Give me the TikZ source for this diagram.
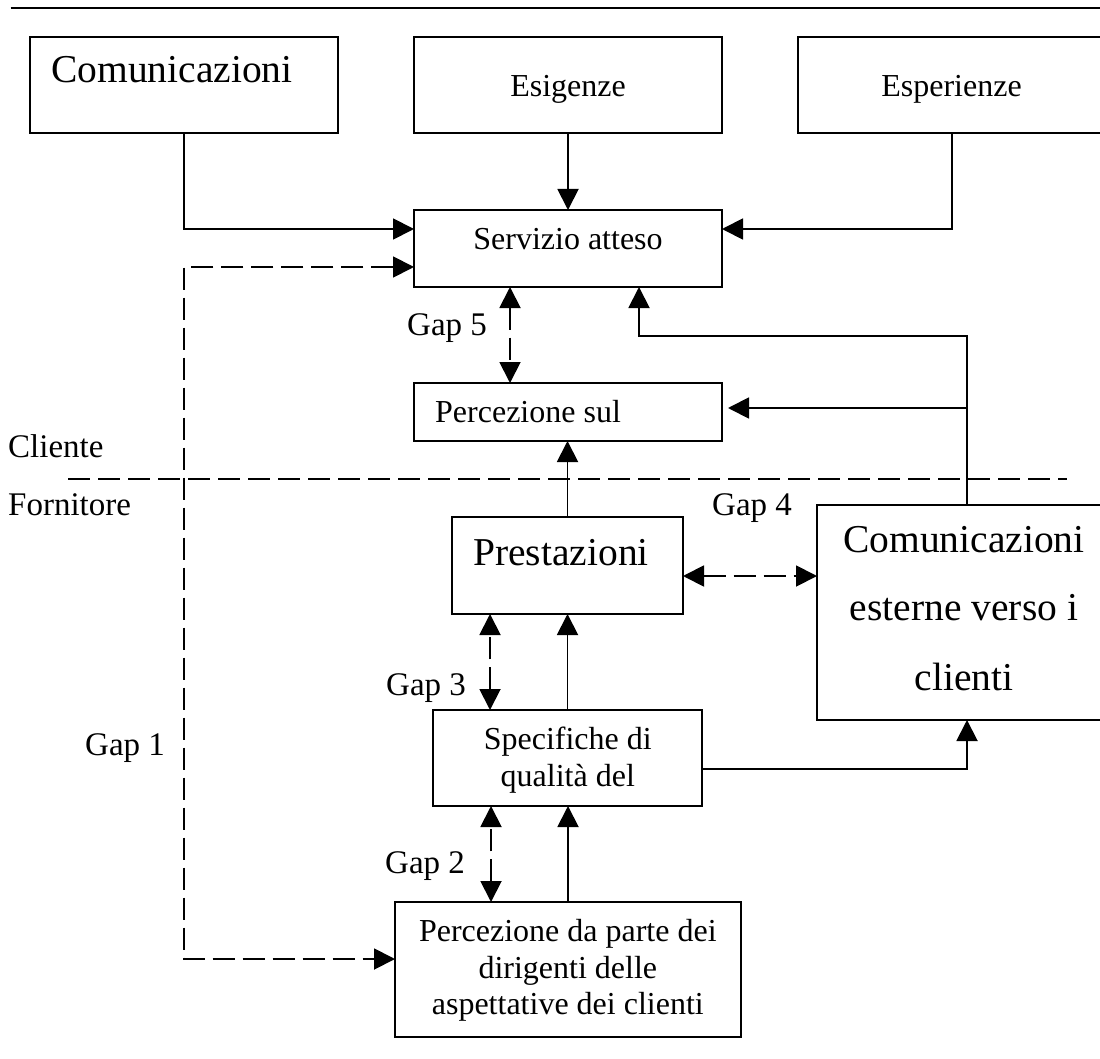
\documentclass[tikz,border=0pt]{standalone}
\usepackage{fontspec}
\setmainfont{Liberation Serif}
\usetikzlibrary{arrows.meta}
\tikzset{
  box/.style={draw, line width=1.6pt, inner sep=0pt, outer sep=0pt},
  conn/.style={line width=1.9pt},
  tip/.tip={Triangle[length=21pt,width=21pt]},
  arr/.style={conn, -tip},
  dashline/.style={dash pattern=on 22pt off 8pt},
  dbl/.style={conn, dashline, tip-tip},
  txt/.style={inner sep=0pt, font=\fontsize{32}{37}\selectfont},
  bigtxt/.style={inner sep=0pt, font=\fontsize{39.5}{45}\selectfont},
  lbl/.style={inner sep=0pt, font=\fontsize{33}{38}\selectfont},
}
\begin{document}
\begin{tikzpicture}[x=1pt,y=-1pt]
\useasboundingbox (0,0) rectangle (1100,1059);
\fill[white] (0,0) rectangle (1100,1059);

% top rule
\coordinate (ruleL) at (10.5,8);
\coordinate (ruleR) at (1100,8);
\draw[line width=2.2pt] (ruleL) -- (ruleR);

% boxes
\node[box, minimum width=308pt, minimum height=96pt] (comm) at (184,85) {};
\node[box, minimum width=308pt, minimum height=96pt] (esig) at (568,85) {};
\node[box, minimum width=307pt, minimum height=96pt] (esper) at (951.5,85) {};
\node[box, minimum width=308pt, minimum height=77pt] (serv) at (568,248.5) {};
\node[box, minimum width=308pt, minimum height=58pt] (percsul) at (568,412) {};
\node[box, minimum width=231pt, minimum height=97pt] (prest) at (567.5,565.5) {};
\node[box, minimum width=294pt, minimum height=215pt] (comest) at (964,612.5) {};
\node[box, minimum width=269pt, minimum height=96pt] (spec) at (567.5,758) {};
\node[box, minimum width=346pt, minimum height=135pt] (percdir) at (568,969.5) {};

% texts
\node[bigtxt, anchor=base west] (tcomm) at (51,83) {Comunicazioni};
\node[txt, anchor=base] (tesig) at (568,97) {Esigenze};
\node[txt, anchor=base] (tesper) at (951.5,97) {Esperienze};
\node[txt, anchor=base] (tserv) at (568,250) {Servizio atteso};
\node[txt, anchor=base west] (tpercsul) at (435,422) {Percezione sul};
\node[bigtxt, anchor=base west] (tprest) at (473,565) {Prestazioni};
\node[bigtxt, anchor=base] (tcomest1) at (964,552) {Comunicazioni};
\node[bigtxt, anchor=base] (tcomest2) at (964,620) {esterne verso i};
\node[bigtxt, anchor=base] (tcomest3) at (964,690) {clienti};
\node[txt, anchor=base] (tspec1) at (567.8,749) {Specifiche di};
\node[txt, anchor=base] (tspec2) at (567.8,786) {qualità del};
\node[txt, anchor=base] (tpd1) at (567.8,941) {Percezione da parte dei};
\node[txt, anchor=base] (tpd2) at (567.8,978) {dirigenti delle};
\node[txt, anchor=base] (tpd3) at (567.8,1014) {aspettative dei clienti};

\node[lbl, anchor=base west] (cliente) at (8,457) {Cliente};
\node[lbl, anchor=base west] (fornitore) at (8,515) {Fornitore};
\node[lbl, anchor=base west] (gap5) at (407,335) {Gap 5};
\node[lbl, anchor=base west] (gap4) at (712,515) {Gap 4};
\node[lbl, anchor=base west] (gap3) at (386,695) {Gap 3};
\node[lbl, anchor=base west] (gap2) at (385,873) {Gap 2};
\node[lbl, anchor=base west] (gap1) at (85,755) {Gap 1};

% cliente / fornitore divider
\coordinate (divL) at (68,479);
\coordinate (divR) at (1067,479);
\draw[conn, dashline] (divL) -- (divR);

% inputs to servizio atteso
\draw[arr] (comm.south) |- ([yshift=19.5pt]serv.west);
\draw[arr] (esig.south) -- (serv.north);
\draw[arr] ([xshift=0.5pt]esper.south) |- ([yshift=19.5pt]serv.east);

% gap 1
\coordinate (g1) at (184,600);
\draw[dbl] ([yshift=-18.5pt]serv.west) -| (g1) |- ([yshift=10.5pt]percdir.west);

% gap 5
\draw[dbl] ([xshift=-58pt]serv.south) -- ([xshift=-58pt]percsul.north);

% feedback from comunicazioni esterne
\coordinate (fb) at (800,336);
\coordinate (br) at (967,408);
\draw[arr] ([xshift=3pt]comest.north) |- (fb) -| ([xshift=71pt]serv.south);
\draw[arr, shorten >=6pt] (br) -- (br -| percsul.east);

% prestazioni -> percezione sul
\draw[arr] (prest.north) -- (prest.north |- percsul.south);

% gap 4
\draw[dbl] ([yshift=-10.5pt]prest.east) -- ([yshift=-10.5pt]prest.east -| comest.west);

% gap 3 and specifiche -> prestazioni
\draw[dbl] ([xshift=-77.5pt]spec.north) -- ([xshift=-77.5pt]spec.north |- prest.south);
\draw[arr] (spec.north) -- (spec.north |- prest.south);

% specifiche -> comunicazioni esterne
\draw[arr] ([yshift=-11pt]spec.east) -| ([xshift=3pt]comest.south);

% gap 2 and percezione dirigenti -> specifiche
\draw[dbl] ([xshift=-77pt]percdir.north) -- ([xshift=-77pt]percdir.north |- spec.south);
\draw[arr] (percdir.north) -- (percdir.north |- spec.south);
\end{tikzpicture}
\end{document}
